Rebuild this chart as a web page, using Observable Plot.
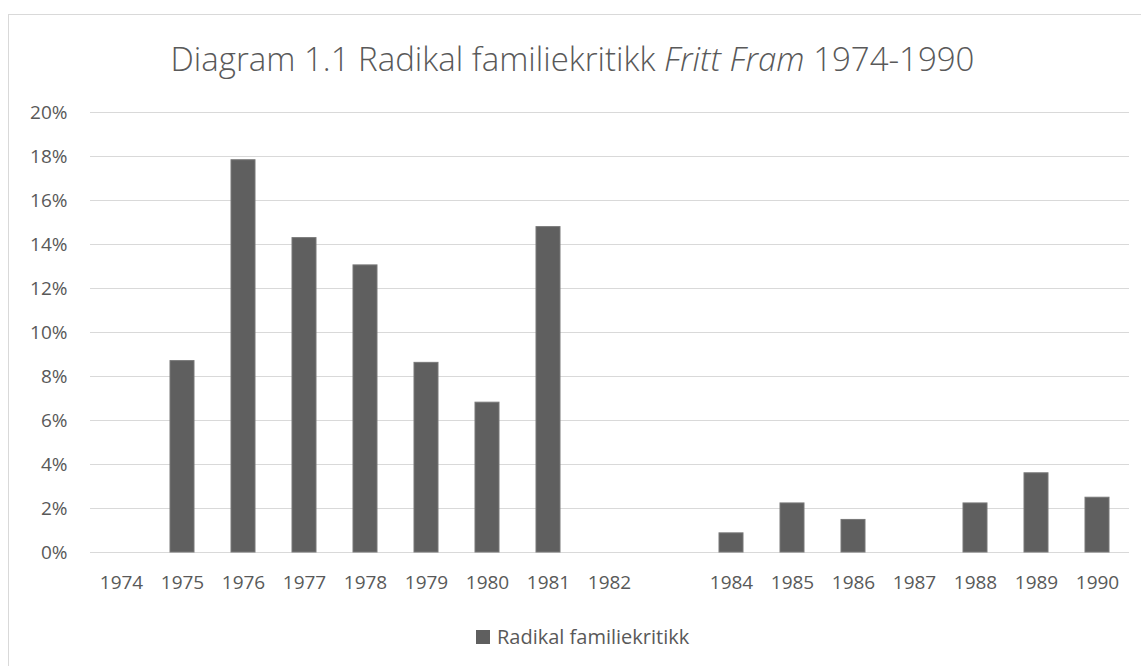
<!DOCTYPE html>
<html>
<head>
<meta charset="utf-8">
<script src="https://cdn.jsdelivr.net/npm/d3@7"></script>
<script src="https://cdn.jsdelivr.net/npm/@observablehq/plot@0.6"></script>
<style>
  html, body { margin: 0; padding: 0; background: #fff; }
  body { width: 1141px; height: 666px; overflow: hidden; position: relative; font-family: "Open Sans", sans-serif; color: #595959; }
  #frame { position: absolute; left: 8px; top: 14px; width: 1200px; height: 700px; border: 1px solid #d9d9d9; box-sizing: border-box; }
  #title { position: absolute; left: 0; top: 37px; width: 1145px; text-align: center; font-size: 33px; font-weight: 300; line-height: 44px; color: #595959; white-space: nowrap; }
  #chart { position: absolute; left: 0; top: 0; }
  #legend { position: absolute; left: 476px; top: 625px; font-size: 20px; line-height: 24px; display: flex; align-items: center; color: #595959; }
  #legend .sw { width: 14px; height: 14px; background: #5f5f5f; margin-right: 7px; }
</style>
</head>
<body>
<div id="frame"></div>
<div id="title">Diagram 1.1 Radikal familiekritikk <i>Fritt Fram</i> 1974-1990</div>
<div id="chart"></div>
<div id="legend"><span class="sw"></span><span id="legendLabel"></span></div>
<script>
// Categories (1983 is an empty, unlabeled slot in the original)
const years = ["1974","1975","1976","1977","1978","1979","1980","1981","1982","1983","1984","1985","1986","1987","1988","1989","1990"];
const tickLabels = ["1974","1975","1976","1977","1978","1979","1980","1981","1982","","1984","1985","1986","1987","1988","1989","1990"];
// Share (%) of "Radikal familiekritikk"
const values = [0, 8.70, 17.83, 14.29, 13.05, 8.62, 6.81, 14.79, 0, null, 0.87, 2.23, 1.48, 0, 2.23, 3.60, 2.49];
const seriesName = "Radikal familiekritikk";
const yTicks = [0, 2, 4, 6, 8, 10, 12, 14, 16, 18, 20];

const data = years.map((y, i) => ({year: y, value: values[i]}));
const labelOf = Object.fromEntries(years.map((y, i) => [y, tickLabels[i]]));

document.getElementById("legendLabel").textContent = seriesName;

const chart = Plot.plot({
  width: 1141,
  height: 620,
  marginTop: 112,
  marginBottom: 68,
  marginLeft: 90,
  marginRight: 12,
  style: {fontFamily: "'Open Sans', sans-serif", fontSize: "19px", color: "#595959", background: "transparent"},
  x: {domain: years, paddingInner: 0.6, paddingOuter: 0.3, label: null},
  y: {domain: [0, 20], label: null},
  marks: [
    Plot.gridY(yTicks, {stroke: "#d9d9d9", strokeOpacity: 1, strokeWidth: 1}),
    Plot.barY(data.filter(d => d.value > 0), {x: "year", y: "value", fill: "#5f5f5f", stroke: "#787878", strokeWidth: 1}),
    Plot.axisX({tickSize: 0, tickPadding: 23, tickFormat: d => labelOf[d], fill: "#595959", fontSize: 19}),
    Plot.axisY({ticks: yTicks, tickSize: 0, tickPadding: 23, tickFormat: d => d + "%", fill: "#595959", fontSize: 19})
  ]
});
document.getElementById("chart").appendChild(chart);
</script>
</body>
</html>
